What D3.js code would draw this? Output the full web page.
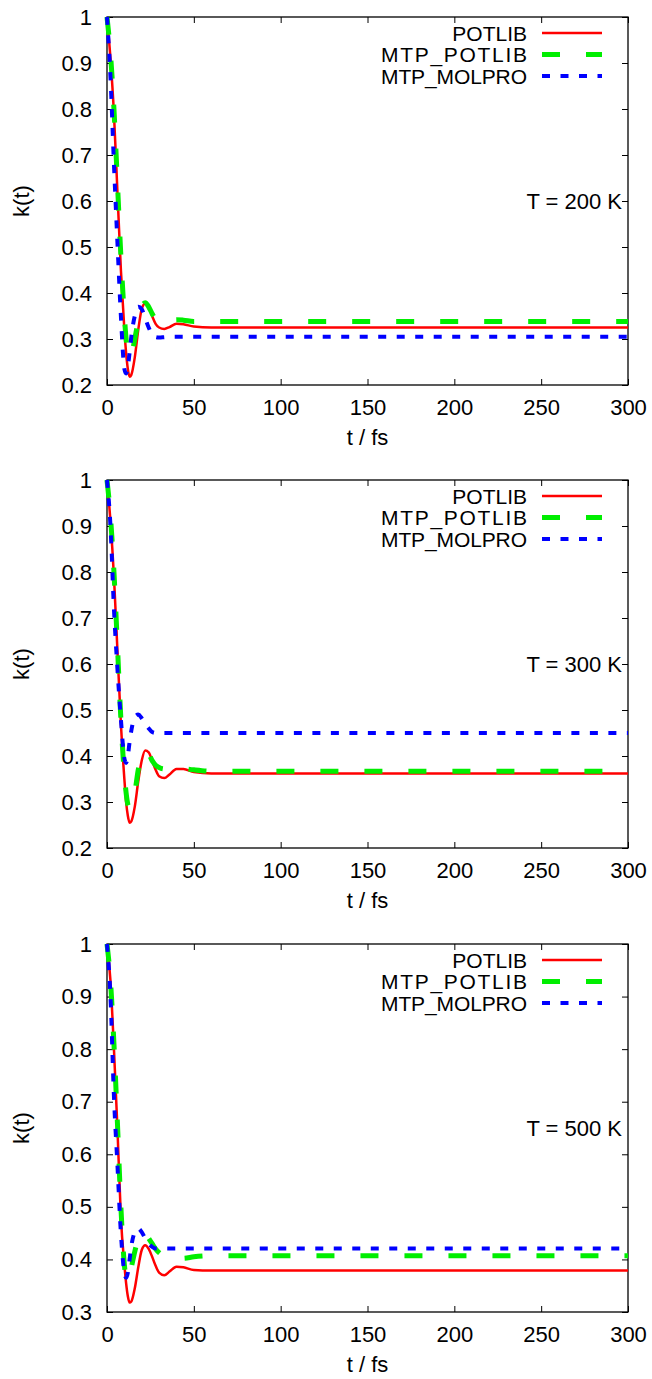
<!DOCTYPE html>
<html>
<head>
<meta charset="utf-8">
<script src="https://cdn.jsdelivr.net/npm/d3@7"></script>
<style>
  body { margin: 0; background: #fff; }
  svg { display: block; font-family: "Liberation Sans", Arial, sans-serif; }
</style>
</head>
<body>
<svg id="chart" width="652" height="1379"></svg>
<script>
// time grid shared by every series (fs)
const timeFs = [0, 2, 4, 6, 8, 10, 11, 12, 13, 14, 16, 18, 20, 22, 24, 26, 28, 30, 33, 36, 40, 44, 50, 60, 80, 300];

// T = 200 K
const potlib200 = [1, 0.91, 0.79, 0.62, 0.45, 0.32, 0.27, 0.235, 0.218, 0.222, 0.26, 0.32, 0.365, 0.377, 0.37, 0.35, 0.333, 0.325, 0.322, 0.326, 0.333, 0.332, 0.327, 0.325, 0.325, 0.325];
const mtpPotlib200 = [1, 0.92, 0.8, 0.64, 0.48, 0.35, 0.3, 0.27, 0.262, 0.265, 0.3, 0.34, 0.37, 0.379, 0.37, 0.355, 0.342, 0.337, 0.335, 0.337, 0.342, 0.341, 0.338, 0.338, 0.338, 0.338];
const mtpMolpro200 = [1, 0.87, 0.68, 0.51, 0.35, 0.235, 0.225, 0.24, 0.27, 0.305, 0.35, 0.37, 0.365, 0.345, 0.325, 0.31, 0.304, 0.303, 0.304, 0.305, 0.305, 0.305, 0.305, 0.305, 0.305, 0.305];

// T = 300 K
const potlib300 = [1, 0.91, 0.79, 0.63, 0.47, 0.35, 0.3, 0.27, 0.255, 0.258, 0.29, 0.345, 0.39, 0.412, 0.408, 0.39, 0.37, 0.356, 0.352, 0.36, 0.372, 0.372, 0.365, 0.362, 0.362, 0.362];
const mtpPotlib300 = [1, 0.92, 0.8, 0.64, 0.48, 0.36, 0.32, 0.295, 0.288, 0.292, 0.32, 0.37, 0.4, 0.41, 0.405, 0.39, 0.38, 0.375, 0.372, 0.372, 0.375, 0.373, 0.37, 0.367, 0.367, 0.367];
const mtpMolpro300 = [1, 0.9, 0.72, 0.59, 0.48, 0.395, 0.385, 0.4, 0.43, 0.455, 0.485, 0.49, 0.482, 0.47, 0.46, 0.452, 0.45, 0.45, 0.45, 0.45, 0.45, 0.45, 0.45, 0.45, 0.45, 0.45];

// T = 500 K
const potlib500 = [1, 0.93, 0.8, 0.65, 0.48, 0.39, 0.355, 0.33, 0.318, 0.32, 0.345, 0.385, 0.418, 0.427, 0.42, 0.405, 0.388, 0.375, 0.37, 0.377, 0.386, 0.385, 0.38, 0.379, 0.379, 0.379];
const mtpPotlib500 = [1, 0.93, 0.81, 0.66, 0.5, 0.39, 0.365, 0.362, 0.37, 0.385, 0.415, 0.44, 0.45, 0.45, 0.44, 0.43, 0.42, 0.413, 0.407, 0.404, 0.402, 0.402, 0.405, 0.407, 0.407, 0.407];
const mtpMolpro500 = [1, 0.9, 0.71, 0.58, 0.45, 0.375, 0.365, 0.375, 0.4, 0.425, 0.452, 0.459, 0.452, 0.44, 0.43, 0.424, 0.421, 0.421, 0.421, 0.421, 0.421, 0.421, 0.421, 0.421, 0.421, 0.421];

const temperatures = [200, 300, 500];
const yMins = [0.2, 0.2, 0.3];
const seriesNames = ['POTLIB', 'MTP_POTLIB', 'MTP_MOLPRO'];
const xTicks = [0, 50, 100, 150, 200, 250, 300];

const panelData = [
  [potlib200, mtpPotlib200, mtpMolpro200],
  [potlib300, mtpPotlib300, mtpMolpro300],
  [potlib500, mtpPotlib500, mtpMolpro500]
];

const styles = [
  { color: '#ff0000', width: 2.5, dash: null },
  { color: '#00ee00', width: 5, dash: '18,26' },
  { color: '#0000ff', width: 4, dash: '8,10.5' }
];

const FONT = 22;
const svg = d3.select('#chart');
const left = 107, right = 628, plotH = 368;
const tops = [17, 480, 944];

const x = d3.scaleLinear().domain([0, 300]).range([left, right]);

temperatures.forEach((temp, p) => {
  const top = tops[p], bottom = top + plotH;
  const y = d3.scaleLinear().domain([yMins[p], 1]).range([bottom, top]);
  const yTicks = d3.range(Math.round(yMins[p] * 10), 11).map(v => v / 10);
  const g = svg.append('g');

  // axes, ticks pointing inward, mirrored on top/right
  const axisStyle = sel => {
    sel.select('.domain').remove();
    sel.selectAll('line').attr('stroke', '#000').attr('stroke-width', 1);
    sel.selectAll('text').attr('font-size', FONT).attr('fill', '#000')
      .attr('font-family', '"Liberation Sans", Arial, sans-serif');
  };

  g.append('g').attr('transform', `translate(0,${bottom})`)
    .call(d3.axisBottom(x).tickValues(xTicks).tickSizeInner(-6).tickSizeOuter(0).tickPadding(14))
    .call(axisStyle);
  g.append('g').attr('transform', `translate(0,${top})`)
    .call(d3.axisTop(x).tickValues(xTicks).tickSizeInner(-6).tickSizeOuter(0).tickFormat(''))
    .call(axisStyle);
  g.append('g').attr('transform', `translate(${left},0)`)
    .call(d3.axisLeft(y).tickValues(yTicks).tickSizeInner(-6).tickSizeOuter(0).tickPadding(15)
      .tickFormat(d => d3.format('')(+d.toFixed(1))))
    .call(axisStyle);
  g.append('g').attr('transform', `translate(${right},0)`)
    .call(d3.axisRight(y).tickValues(yTicks).tickSizeInner(-6).tickSizeOuter(0).tickFormat(''))
    .call(axisStyle);

  g.append('rect')
    .attr('x', left).attr('y', top)
    .attr('width', right - left).attr('height', plotH)
    .attr('fill', 'none').attr('stroke', '#000').attr('stroke-width', 1.3);

  // axis titles
  g.append('text')
    .attr('transform', `translate(21,${(top + bottom) / 2}) rotate(-90)`)
    .attr('text-anchor', 'middle').attr('dominant-baseline', 'central')
    .attr('font-size', FONT).text('k(t)');
  g.append('text')
    .attr('x', (left + right) / 2).attr('y', bottom + 52)
    .attr('text-anchor', 'middle').attr('dominant-baseline', 'central')
    .attr('font-size', FONT).text('t / fs');

  // curves
  g.append('clipPath').attr('id', `clip${p}`)
    .append('rect').attr('x', left - 3).attr('y', top - 3)
    .attr('width', right - left + 3).attr('height', plotH + 6);

  const line = d3.line()
    .x((d, i) => x(timeFs[i]))
    .y(d => y(d))
    .curve(d3.curveMonotoneX);

  panelData[p].forEach((vals, s) => {
    g.append('path')
      .attr('clip-path', `url(#clip${p})`)
      .attr('d', line(vals))
      .attr('fill', 'none')
      .attr('stroke', styles[s].color)
      .attr('stroke-width', styles[s].width)
      .attr('stroke-dasharray', styles[s].dash);
  });

  // legend
  seriesNames.forEach((name, s) => {
    const ly = top + 16 + s * 21.5;
    g.append('text')
      .attr('x', 527).attr('y', ly)
      .attr('text-anchor', 'end').attr('dominant-baseline', 'central')
      .attr('font-size', 21).attr('textLength', name.length > 6 ? name.length * 14.6 : null)
      .text(name);
    g.append('line')
      .attr('x1', 542).attr('x2', 602).attr('y1', ly).attr('y2', ly)
      .attr('stroke', styles[s].color)
      .attr('stroke-width', styles[s].width)
      .attr('stroke-dasharray', styles[s].dash);
  });

  g.append('text')
    .attr('x', 622).attr('y', (top + bottom) / 2)
    .attr('text-anchor', 'end').attr('dominant-baseline', 'central')
    .attr('font-size', FONT).text(`T = ${temp} K`);
});
</script>
</body>
</html>
